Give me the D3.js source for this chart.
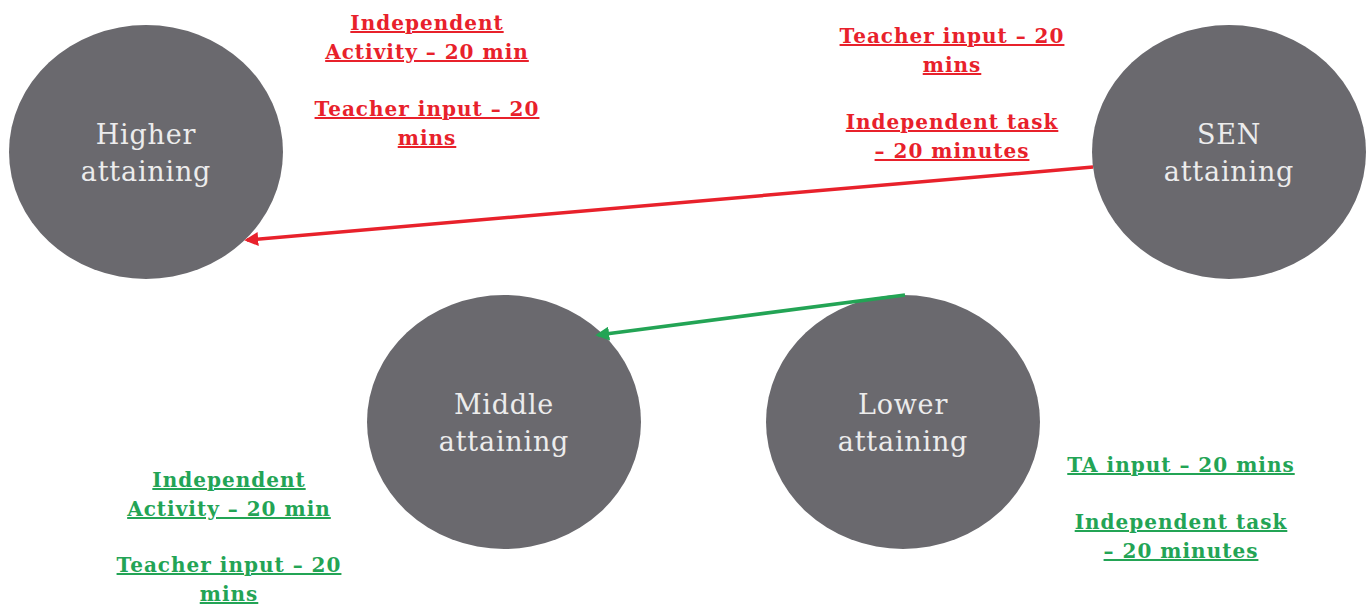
<!DOCTYPE html>
<meta charset="utf-8">
<style>
body { margin: 0; background: #fff; }
.group text { fill: #ececec; font-family: "DejaVu Serif", serif; font-size: 27px; letter-spacing: 0.8px; }
.note text { font-family: "DejaVu Serif", serif; font-weight: bold; font-size: 20px; letter-spacing: 1px; text-decoration: underline; }
</style>
<body>
<svg width="1370" height="608"></svg>
<script src="https://cdn.jsdelivr.net/npm/d3@7/dist/d3.min.js"></script>
<script>
// groups in the classroom rotation
var groups = ["Higher attaining", "SEN attaining", "Middle attaining", "Lower attaining"];
var groupLines = [["Higher", "attaining"], ["SEN", "attaining"], ["Middle", "attaining"], ["Lower", "attaining"]];

// notes beside each group (red = top pair, green = bottom pair)
var notes = [
  { group: "Higher attaining", lines: [["Independent", "Activity – 20 min"], ["Teacher input – 20", "mins"]] },
  { group: "SEN attaining", lines: [["Teacher input – 20", "mins"], ["Independent task", "– 20 minutes"]] },
  { group: "Middle attaining", lines: [["Independent", "Activity – 20 min"], ["Teacher input – 20", "mins"]] },
  { group: "Lower attaining", lines: [["TA input – 20 mins"], ["Independent task", "– 20 minutes"]] }
];

// who moves to whom after 20 minutes
var moves = [
  { from: "SEN attaining", to: "Higher attaining", colour: "red" },
  { from: "Lower attaining", to: "Middle attaining", colour: "green" }
];

// layout (kept apart from the data)
var centres = {
  "Higher attaining": [146, 152],
  "SEN attaining": [1229, 152],
  "Middle attaining": [504, 422],
  "Lower attaining": [903, 422]
};
var noteAnchor = {
  "Higher attaining": [427, 30, 116],
  "SEN attaining": [952, 43, 129],
  "Middle attaining": [229, 487, 572],
  "Lower attaining": [1181, 472, 529]
};
var moveEnds = {
  "SEN attaining>Higher attaining": [[1093, 167], [247, 240]],
  "Lower attaining>Middle attaining": [[905, 295], [598, 335]]
};
var colours = { red: "#e8212b", green: "#23a455" };
var rx = 137, ry = 127;

var svg = d3.select("svg");

var defs = svg.append("defs");
Object.keys(colours).forEach(function(k) {
  defs.append("marker")
      .attr("id", "arrow-" + k)
      .attr("viewBox", "0 0 10 10")
      .attr("refX", 8).attr("refY", 5)
      .attr("markerWidth", 4).attr("markerHeight", 4)
      .attr("orient", "auto")
    .append("path")
      .attr("d", "M0,0L10,5L0,10Z")
      .attr("fill", colours[k]);
});

var node = svg.selectAll("g.group")
  .data(groups)
  .enter().append("g")
    .attr("class", "group")
    .attr("transform", function(d) { return "translate(" + centres[d] + ")"; });

node.append("ellipse")
    .attr("rx", rx).attr("ry", ry)
    .attr("fill", "#6a696e");

node.each(function(d, i) {
  var t = d3.select(this).append("text").attr("text-anchor", "middle");
  groupLines[i].forEach(function(l, j) {
    t.append("tspan").attr("x", 0).attr("y", j === 0 ? -8 : 29).text(l);
  });
});

svg.selectAll("line.move")
  .data(moves)
  .enter().append("line")
    .attr("class", "move")
    .attr("x1", function(d) { return moveEnds[d.from + ">" + d.to][0][0]; })
    .attr("y1", function(d) { return moveEnds[d.from + ">" + d.to][0][1]; })
    .attr("x2", function(d) { return moveEnds[d.from + ">" + d.to][1][0]; })
    .attr("y2", function(d) { return moveEnds[d.from + ">" + d.to][1][1]; })
    .attr("stroke", function(d) { return colours[d.colour]; })
    .attr("stroke-width", 3.5)
    .attr("marker-end", function(d) { return "url(#arrow-" + d.colour + ")"; });

var note = svg.selectAll("g.note")
  .data(notes)
  .enter().append("g")
    .attr("class", "note");

note.each(function(d, i) {
  var a = noteAnchor[d.group];
  var col = i < 2 ? colours.red : colours.green;
  var t = d3.select(this).append("text")
      .attr("text-anchor", "middle")
      .attr("fill", col);
  d.lines.forEach(function(block, b) {
    block.forEach(function(l, j) {
      t.append("tspan").attr("x", a[0]).attr("y", a[1 + b] + j * 29).text(l);
    });
  });
});
</script>
</body>
